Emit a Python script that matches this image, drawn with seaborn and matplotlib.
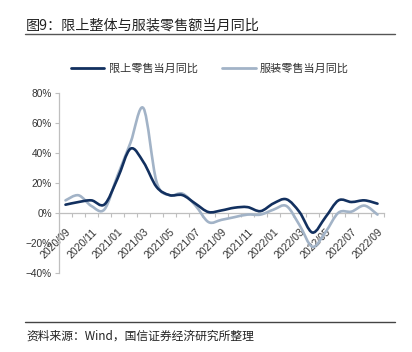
import numpy as np
import pandas as pd
import matplotlib
matplotlib.use("Agg")
import matplotlib.pyplot as plt
import seaborn as sns
from matplotlib.path import Path
from matplotlib.patches import PathPatch
from matplotlib.lines import Line2D
from matplotlib.transforms import ScaledTranslation

# ---- data ----
months = ["2020/09", "2020/10", "2020/11", "2020/12", "2021/01", "2021/02", "2021/03",
          "2021/04", "2021/05", "2021/06", "2021/07", "2021/08", "2021/09", "2021/10",
          "2021/11", "2021/12", "2022/01", "2022/02", "2022/03", "2022/04", "2022/05",
          "2022/06", "2022/07", "2022/08", "2022/09"]
total_yoy = [5.6, 7.4, 8.5, 5.8, 23.0, 43.0, 34.0, 17.5, 12.0, 12.0, 6.3, 0.7, 1.8,
             3.6, 4.0, 1.3, 6.5, 9.2, 0.7, -13.0, -2.7, 8.5, 7.4, 8.5, 6.3]
apparel_yoy = [8.5, 11.9, 4.7, 2.5, 25.0, 47.0, 70.0, 21.0, 12.0, 13.0, 5.0, -6.0, -4.5,
               -2.7, -1.0, -1.0, 2.3, 4.7, -8.0, -22.5, -12.7, 0.3, 1.0, 5.0, -1.0]
series_names = ["限上零售当月同比", "服装零售当月同比"]
y_ticks = [-40, -20, 0, 20, 40, 60, 80]
y_tick_labels = ["\u221240%", "\u221220%", "0%", "20%", "40%", "60%", "80%"]
title = "图9：限上整体与服装零售额当月同比"
source = "资料来源：Wind，国信证券经济研究所整理"

DARK = "#12305f"
LIGHT = "#a2b3c7"
GRID = "#bfbfbf"

sns.set_theme(style="white")
plt.rcParams["font.family"] = ["Noto Sans CJK SC", "DejaVu Sans"]

n = len(months)
df = pd.DataFrame({
    "idx": list(range(n)) * 2,
    "value": total_yoy + apparel_yoy,
    "series": [series_names[0]] * n + [series_names[1]] * n,
})

W, H = 412, 352
fig = plt.figure(figsize=(W / 100, H / 100), dpi=100)
fig.patch.set_facecolor("white")
ax = fig.add_axes([59 / W, (H - 273) / H, 325 / W, (273 - 93.3) / H])

palette = {series_names[0]: DARK, series_names[1]: LIGHT}
sns.lineplot(data=df, x="idx", y="value", hue="series", palette=palette,
             linewidth=0, legend=False, ax=ax)


def smooth_path(xs, ys):
    verts = [(xs[0], ys[0])]
    codes = [Path.MOVETO]
    m = len(xs)
    for i in range(m - 1):
        a = i - 1 if i > 0 else i
        d = i + 2 if i + 2 < m else i + 1
        c1 = (xs[i] + (xs[i + 1] - xs[a]) / 6.0, ys[i] + (ys[i + 1] - ys[a]) / 6.0)
        c2 = (xs[i + 1] - (xs[d] - xs[i]) / 6.0, ys[i + 1] - (ys[d] - ys[i]) / 6.0)
        verts += [c1, c2, (xs[i + 1], ys[i + 1])]
        codes += [Path.CURVE4] * 3
    return Path(verts, codes)


for name in series_names:
    sub = df[df["series"] == name]
    p = smooth_path(sub["idx"].tolist(), sub["value"].tolist())
    ax.add_patch(PathPatch(p, fill=False, edgecolor=palette[name], lw=1.9,
                           capstyle="round", joinstyle="round",
                           zorder=3 if name == series_names[1] else 4))

ax.set_xlim(-0.5, n - 0.5)
ax.set_ylim(-40, 80)
ax.set_xlabel("")
ax.set_ylabel("")

for s in ["top", "right"]:
    ax.spines[s].set_visible(False)
ax.spines["left"].set_color(GRID)
ax.spines["bottom"].set_color(GRID)
ax.spines["left"].set_linewidth(0.9)
ax.spines["bottom"].set_linewidth(0.9)
ax.spines["bottom"].set_position(("data", 0))

ax.set_yticks(y_ticks)
ax.set_yticklabels(y_tick_labels)
ax.tick_params(axis="y", which="major", direction="out", length=3, width=0.8,
               color=GRID, labelsize=7.3, labelcolor="#333333", pad=2, left=True)

ax.set_xticks(list(range(0, n, 2)))
ax.set_xticklabels(months[::2], rotation=45, ha="right", va="center",
                   rotation_mode="anchor")
ax.set_xticks(np.arange(-0.5, n, 1.0), minor=True)
ax.tick_params(axis="x", which="major", length=0, labelsize=7.6,
               labelcolor="#333333", pad=12.5, bottom=True)
ax.tick_params(axis="x", which="minor", direction="out", length=3, width=0.8,
               color=GRID, bottom=True)

offset = ScaledTranslation(4.0 / 100, 0, fig.dpi_scale_trans)
for lab in ax.get_xticklabels():
    lab.set_transform(lab.get_transform() + offset)
    lab.set_fontfamily("Liberation Sans")
for lab in ax.get_yticklabels():
    lab.set_fontfamily("Liberation Sans")

ax.grid(False)

# title and rules
fig.text(26 / W, 1 - 25 / H, title, fontsize=10.2, ha="left", va="center", color="#222222")
fig.add_artist(Line2D([25 / W, 395 / W], [1 - 34 / H] * 2, color="#555555", lw=1.0))
fig.add_artist(Line2D([25 / W, 395 / W], [1 - 321.5 / H] * 2, color="#444444", lw=1.0))
fig.text(26 / W, 1 - 336 / H, source, fontsize=8.5, ha="left", va="center", color="#222222")

handles = [Line2D([], [], color=DARK, lw=2.0), Line2D([], [], color=LIGHT, lw=2.0)]
leg = fig.legend(handles, series_names, loc="center", bbox_to_anchor=(210 / W, 1 - 69 / H),
                 ncol=2, frameon=False, fontsize=8, handlelength=3.0, handletextpad=0.4,
                 columnspacing=2.2)
for t in leg.get_texts():
    t.set_color("#333333")

fig.savefig("out.png", dpi=100, facecolor="white")
